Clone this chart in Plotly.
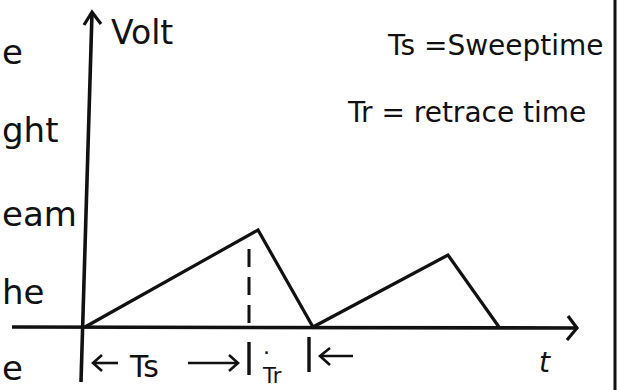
import plotly.graph_objects as go

# Sawtooth sweep voltage (time and volt in arbitrary units)
t_sweep = [0, 8.65, 11.4, 18.15, 20.7]
v_sweep = [0, 4.85, 0, 3.6, 0]

# End of the first sweep (dashed marker) and end of the first retrace
t_sweep_end = 8.2
t_retrace_end = 11.2

y_label = "Volt"
x_label = "t"
key_lines = ["Ts =Sweeptime", "Tr = retrace time"]
margin_words = ["e", "ght", "eam", "he", "e"]

W, H = 618, 390
SCALE = 20.0          # pixels per unit on both axes
X0, Y0 = 85, 327      # pixel position of the origin


def P(xp, yp):
    """Pixel position -> data coordinates."""
    return (xp - X0) / SCALE, (Y0 - yp) / SCALE


INK = "#111111"
FONT = "DejaVu Sans"

fig = go.Figure()


def seg(points, width=3.2, dash=None):
    xs, ys = [], []
    for pt in points:
        if pt is None:
            xs.append(None); ys.append(None)
        else:
            x, y = P(*pt)
            xs.append(x); ys.append(y)
    fig.add_trace(go.Scatter(x=xs, y=ys, mode="lines",
                             line=dict(color=INK, width=width, dash=dash),
                             hoverinfo="skip", showlegend=False))


# axes (hand drawn, slight tilt on the vertical one)
seg([(81, 382), (92, 13)], width=3.6)
seg([(12, 327), (577, 328)], width=3.6)
# open arrowheads
seg([(84, 25), (92, 12), (101, 24)], width=3.2)
seg([(568, 316), (577, 328), (567, 340)], width=3.2)

# the sweep waveform from the data
fig.add_trace(go.Scatter(x=t_sweep, y=v_sweep, mode="lines",
                         line=dict(color=INK, width=3.2),
                         hoverinfo="skip", showlegend=False))

# dashed marker at the end of the sweep
fig.add_trace(go.Scatter(x=[t_sweep_end, t_sweep_end],
                         y=[0.2, v_sweep[1] - 0.5], mode="lines",
                         line=dict(color=INK, width=3, dash="18px,10px"),
                         hoverinfo="skip", showlegend=False))

# tick marks below the axis
fig.add_trace(go.Scatter(x=[t_sweep_end, t_sweep_end, None, t_retrace_end, t_retrace_end],
                         y=[-0.75, -2.4, None, -0.5, -2.25], mode="lines",
                         line=dict(color=INK, width=3.4),
                         hoverinfo="skip", showlegend=False))

# dimension arrows under the axis
seg([(93, 363), (118, 363)], width=2.6)
seg([(102, 355), (93, 363), (102, 371)], width=2.6)
seg([(188, 363), (238, 363)], width=2.6)
seg([(229, 355), (238, 363), (229, 371)], width=2.6)
seg([(320, 356), (353, 356)], width=2.6)
seg([(330, 348), (320, 356), (330, 365)], width=2.6)

# right page edge
fig.add_shape(type="line", xref="paper", yref="paper",
              x0=615 / W, x1=615 / W, y0=0, y1=1,
              line=dict(color=INK, width=3))

annots = []


def text(s, xp, yp, size, anchor="left", italic=False, ref="x"):
    x, y = P(xp, yp)
    if ref == "paper":
        x, y = xp / W, 1 - yp / H
    annots.append(dict(x=x, y=y, xref=ref, yref="y" if ref == "x" else "paper",
                       text=s, showarrow=False, borderpad=0,
                       xanchor=anchor, yanchor="middle",
                       font=dict(family=FONT, size=size, color=INK,
                                 style="italic" if italic else "normal")))


text(y_label, 110, 32, 33)
text(x_label, 538, 362, 28, italic=True)
text("Ts", 128, 366, 30)
text("Tr", 261, 376, 21)
text("·", 262, 352, 22)
text(key_lines[0], 386, 45, 28)
text(key_lines[1], 346, 112, 28)

# word endings running in from the left page margin
for w, yp in zip(margin_words, [52, 130, 214, 292, 368]):
    text(w, 1, yp, 34, ref="paper")

fig.update_layout(
    width=W, height=H,
    margin=dict(l=0, r=0, t=0, b=0),
    paper_bgcolor="white", plot_bgcolor="white",
    xaxis=dict(range=[-X0 / SCALE, (W - X0) / SCALE], visible=False, fixedrange=True),
    yaxis=dict(range=[(Y0 - H) / SCALE, Y0 / SCALE], visible=False, fixedrange=True),
    annotations=annots,
    showlegend=False,
)

fig.write_html("out.html")
